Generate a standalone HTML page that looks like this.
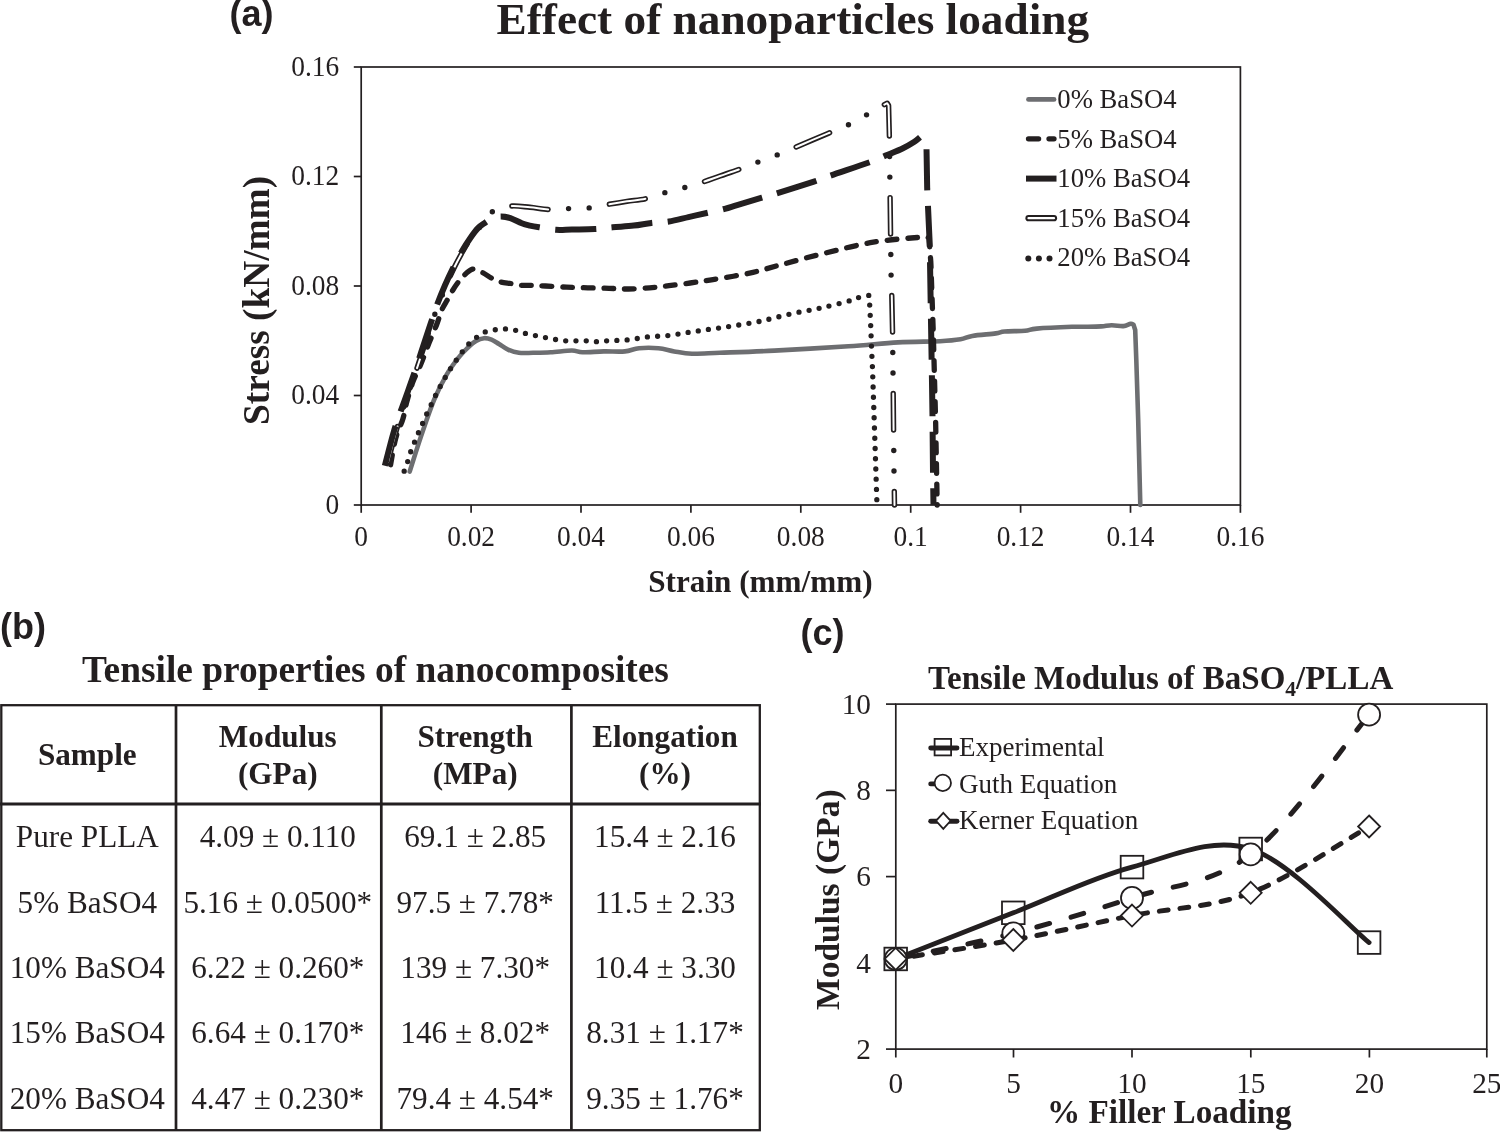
<!DOCTYPE html><html><head><meta charset="utf-8"><title>Effect of nanoparticles loading</title><style>
html,body{margin:0;padding:0;background:#fff;width:1500px;height:1132px;overflow:hidden}
svg{display:block;will-change:transform}
text{fill:#231f20}
.s{font-family:'Liberation Serif', serif}
.b{font-weight:bold}
.ss{font-family:'Liberation Sans', sans-serif;font-weight:bold}
</style></head><body>
<svg width="1500" height="1132" viewBox="0 0 1500 1132">
<rect width="1500" height="1132" fill="#fff"/>
<text class="ss" x="229.5" y="26" font-size="36">(a)</text>
<text class="s b" x="496.5" y="34" font-size="45.3">Effect of nanoparticles loading</text>
<g stroke="#231f20" stroke-width="1.7" fill="none">
<rect x="361.2" y="67.0" width="879.2" height="438.0"/>
<line x1="353.8" y1="505" x2="361.2" y2="505"/>
<line x1="353.8" y1="395.5" x2="361.2" y2="395.5"/>
<line x1="353.8" y1="286" x2="361.2" y2="286"/>
<line x1="353.8" y1="176.5" x2="361.2" y2="176.5"/>
<line x1="353.8" y1="67" x2="361.2" y2="67"/>
<line x1="361.2" y1="505.0" x2="361.2" y2="512.8"/>
<line x1="471.1" y1="505.0" x2="471.1" y2="512.8"/>
<line x1="581" y1="505.0" x2="581" y2="512.8"/>
<line x1="690.9" y1="505.0" x2="690.9" y2="512.8"/>
<line x1="800.8" y1="505.0" x2="800.8" y2="512.8"/>
<line x1="910.7" y1="505.0" x2="910.7" y2="512.8"/>
<line x1="1020.6" y1="505.0" x2="1020.6" y2="512.8"/>
<line x1="1130.5" y1="505.0" x2="1130.5" y2="512.8"/>
<line x1="1240.4" y1="505.0" x2="1240.4" y2="512.8"/>
</g>
<g class="s" font-size="27.4" text-anchor="end">
<text transform="translate(339.2 513.9) scale(1 1.06)">0</text>
<text transform="translate(339.2 404.4) scale(1 1.06)">0.04</text>
<text transform="translate(339.2 294.9) scale(1 1.06)">0.08</text>
<text transform="translate(339.2 185.4) scale(1 1.06)">0.12</text>
<text transform="translate(339.2 75.9) scale(1 1.06)">0.16</text>
</g>
<g class="s" font-size="27.4" text-anchor="middle">
<text transform="translate(361.2 545.6) scale(1 1.06)">0</text>
<text transform="translate(471.1 545.6) scale(1 1.06)">0.02</text>
<text transform="translate(581 545.6) scale(1 1.06)">0.04</text>
<text transform="translate(690.9 545.6) scale(1 1.06)">0.06</text>
<text transform="translate(800.8 545.6) scale(1 1.06)">0.08</text>
<text transform="translate(910.7 545.6) scale(1 1.06)">0.1</text>
<text transform="translate(1020.6 545.6) scale(1 1.06)">0.12</text>
<text transform="translate(1130.5 545.6) scale(1 1.06)">0.14</text>
<text transform="translate(1240.4 545.6) scale(1 1.06)">0.16</text>
</g>
<text class="s b" font-size="37.3" text-anchor="middle" transform="translate(268.8 300.4) rotate(-90)">Stress (kN/mm)</text>
<text class="s b" font-size="31.2" text-anchor="middle" x="760.4" y="592.3">Strain (mm/mm)</text>
<g fill="none" stroke-linejoin="round">
<path d="M409.7 471.6 C411.62 465.63 417.15 447.73 421.2 435.8 C425.25 423.87 429.73 410.25 434 400 C438.27 389.75 442.53 381.57 446.8 374.3 C451.07 367.03 456.07 360.87 459.6 356.4 C463.13 351.93 465.27 350.07 468 347.5 C470.73 344.93 473.33 342.55 476 341 C478.67 339.45 481.42 338.43 484 338.2 C486.58 337.97 489 338.63 491.5 339.6 C494 340.57 496.25 342.33 499 344 C501.75 345.67 504.68 348.13 508 349.6 C511.32 351.07 514.73 352.27 518.9 352.8 C523.07 353.33 527.7 352.88 533 352.8 C538.3 352.72 544.22 352.68 550.7 352.3 C557.18 351.92 566.6 350.5 571.9 350.5 C577.2 350.5 577.2 352.15 582.5 352.3 C587.8 352.45 596.63 351.55 603.7 351.4 C610.77 351.25 619.02 351.93 624.9 351.4 C630.78 350.87 633.42 348.73 639 348.2 C644.58 347.67 652.52 347.67 658.4 348.2 C664.28 348.73 668.7 350.48 674.3 351.4 C679.9 352.32 684.4 353.47 692 353.7 C699.6 353.93 706.18 353.32 719.9 352.8 C733.62 352.28 752.87 351.7 774.3 350.6 C795.73 349.5 827.88 347.57 848.5 346.2 C869.12 344.83 882.75 343.23 898 342.4 C913.25 341.57 929.58 341.72 940 341.2 C950.42 340.68 955.12 340.18 960.5 339.3 C965.88 338.42 966.43 336.88 972.3 335.9 C978.17 334.92 990.33 334.13 995.7 333.4 C1001.07 332.67 999.62 331.93 1004.5 331.5 C1009.38 331.07 1019.62 331.28 1025 330.8 C1030.38 330.32 1028.97 329.27 1036.8 328.6 C1044.63 327.93 1063.7 327.1 1072 326.8 C1080.3 326.5 1081.72 326.87 1086.6 326.8 C1091.48 326.73 1097.13 326.67 1101.3 326.4 C1105.47 326.13 1107.93 325.25 1111.6 325.2 C1115.27 325.15 1120.13 326.33 1123.3 326.1 C1126.47 325.87 1128.9 324.05 1130.6 323.8 C1132.3 323.55 1133.02 324.47 1133.5 324.6 L1135.2 330 L1136.3 360 L1138.2 420 L1140.3 505" stroke="#6d6e71" stroke-width="4.6" stroke-linecap="round"/>
<path d="M390 468 C390.95 463.05 393.57 446.43 395.7 438.3 C397.83 430.17 400.95 425.3 402.8 419.2 C404.65 413.1 405.07 408.05 406.8 401.7 C408.53 395.35 410.82 387.45 413.2 381.1 C415.58 374.75 418.47 369.95 421.1 363.6 C423.73 357.25 426.35 349.63 429 343 C431.65 336.37 434.92 329.22 437 323.8 C439.08 318.38 439.8 314.43 441.5 310.5 C443.2 306.57 445.28 303.63 447.2 300.2 C449.12 296.77 451.27 292.77 453 289.9 C454.73 287.03 455.88 285.3 457.6 283 C459.32 280.7 460.82 278.4 463.3 276.1 C465.78 273.8 469.43 269.87 472.5 269.2 C475.57 268.53 478.45 270.57 481.7 272.1 C484.95 273.63 488.95 276.78 492 278.4 C495.05 280.02 496.75 280.93 500 281.8 C503.25 282.67 508.05 283.02 511.5 283.6 C514.95 284.18 517.25 285.02 520.7 285.3 C524.15 285.58 528.08 285.18 532.2 285.3 C536.32 285.42 539.67 285.68 545.4 286 C551.13 286.32 559.53 286.9 566.6 287.2 C573.67 287.5 580.73 287.62 587.8 287.8 C594.87 287.98 602.23 288.1 609 288.3 C615.77 288.5 621.63 289.08 628.4 289 C635.17 288.92 642.83 288.35 649.6 287.8 C656.37 287.25 662.23 286.5 669 285.7 C675.77 284.9 683.13 283.98 690.2 283 C697.27 282.02 701.52 281.43 711.4 279.8 C721.28 278.17 737.78 275.75 749.5 273.2 C761.22 270.65 769.32 267.8 781.7 264.5 C794.08 261.2 808.53 257.12 823.8 253.4 C839.07 249.68 857.22 244.88 873.3 242.2 C889.38 239.52 911.02 238 920.3 237.3 C929.58 236.6 927.55 237.88 929 238 L930.8 262 L933.2 330 L935.6 420 L937.2 505" stroke="#231f20" stroke-width="5.3" stroke-linecap="round" stroke-dasharray="9.7 10.9" stroke-dashoffset="17.18"/>
<path d="M386 470 C387.5 464.17 391.92 446 395 435 C398.08 424 401.33 413.67 404.5 404 C407.67 394.33 411.08 385.5 414 377 C416.92 368.5 419.17 361.67 422 353 C424.83 344.33 428.33 332.83 431 325 C433.67 317.17 435.5 312.5 438 306 C440.5 299.5 443.33 292.33 446 286 C448.67 279.67 451.17 273.83 454 268 C456.83 262.17 460.17 256 463 251 C465.83 246 468.33 241.83 471 238 C473.67 234.17 476.5 230.83 479 228 C481.5 225.17 483.73 223.73 486 221 C488.27 218.27 488.53 214.08 492.6 211.6 C496.67 209.12 504.17 206.82 510.4 206.1 C516.63 205.38 523.5 206.73 530 207.3 C536.5 207.87 543.02 209.28 549.4 209.5 C555.78 209.72 561.67 208.87 568.3 208.6 C574.93 208.33 582.57 208.6 589.2 207.9 C595.83 207.2 601.8 205.5 608.1 204.4 C614.4 203.3 620.67 202.27 627 201.3 C633.33 200.33 639.83 200.03 646.1 198.6 C652.37 197.17 658.18 194.53 664.6 192.7 C671.02 190.87 678.12 189.42 684.6 187.6 C691.08 185.78 697.6 183.73 703.5 181.8 C709.4 179.87 713.98 178.1 720 176 C726.02 173.9 733.37 171.48 739.6 169.2 C745.83 166.92 751.13 164.68 757.4 162.3 C763.67 159.92 770.88 157.38 777.2 154.9 C783.52 152.42 789.5 149.85 795.3 147.4 C801.1 144.95 806.22 142.67 812 140.2 C817.78 137.73 823.92 135.18 830 132.6 C836.08 130.02 842.4 127.67 848.5 124.7 C854.6 121.73 860.62 118.15 866.6 114.8 C872.58 111.45 881.43 106.3 884.4 104.6 L887.2 103.2 L888.6 105.5 L889.4 137 L889.6 156.8 L890.1 197.7 L890.6 236 L891.1 276.1 L891.8 296.7 L892.6 333.8 L893 372 L893.6 432 L894 472 L894.5 505" stroke="#231f20" stroke-width="5.4" stroke-linecap="round" stroke-dasharray="36.4 20.5 0 20.6 0 20.5" stroke-dashoffset="89.57"/>
<path d="M386 470 C387.5 464.17 391.92 446 395 435 C398.08 424 401.33 413.67 404.5 404 C407.67 394.33 411.08 385.5 414 377 C416.92 368.5 419.17 361.67 422 353 C424.83 344.33 428.33 332.83 431 325 C433.67 317.17 435.5 312.5 438 306 C440.5 299.5 443.33 292.33 446 286 C448.67 279.67 451.17 273.83 454 268 C456.83 262.17 460.17 256 463 251 C465.83 246 468.33 241.83 471 238 C473.67 234.17 476.5 230.83 479 228 C481.5 225.17 483.73 223.73 486 221 C488.27 218.27 488.53 214.08 492.6 211.6 C496.67 209.12 504.17 206.82 510.4 206.1 C516.63 205.38 523.5 206.73 530 207.3 C536.5 207.87 543.02 209.28 549.4 209.5 C555.78 209.72 561.67 208.87 568.3 208.6 C574.93 208.33 582.57 208.6 589.2 207.9 C595.83 207.2 601.8 205.5 608.1 204.4 C614.4 203.3 620.67 202.27 627 201.3 C633.33 200.33 639.83 200.03 646.1 198.6 C652.37 197.17 658.18 194.53 664.6 192.7 C671.02 190.87 678.12 189.42 684.6 187.6 C691.08 185.78 697.6 183.73 703.5 181.8 C709.4 179.87 713.98 178.1 720 176 C726.02 173.9 733.37 171.48 739.6 169.2 C745.83 166.92 751.13 164.68 757.4 162.3 C763.67 159.92 770.88 157.38 777.2 154.9 C783.52 152.42 789.5 149.85 795.3 147.4 C801.1 144.95 806.22 142.67 812 140.2 C817.78 137.73 823.92 135.18 830 132.6 C836.08 130.02 842.4 127.67 848.5 124.7 C854.6 121.73 860.62 118.15 866.6 114.8 C872.58 111.45 881.43 106.3 884.4 104.6 L887.2 103.2 L888.6 105.5 L889.4 137 L889.6 156.8 L890.1 197.7 L890.6 236 L891.1 276.1 L891.8 296.7 L892.6 333.8 L893 372 L893.6 432 L894 472 L894.5 505" stroke="#fff" stroke-width="2" stroke-linecap="round" stroke-dasharray="36.4 61.6" stroke-dashoffset="89.57"/>
<path d="M384 469 C385.67 462.67 390.73 441.95 394 431 C397.27 420.05 400.4 412.42 403.6 403.3 C406.8 394.18 410.28 384.77 413.2 376.3 C416.12 367.83 418.2 361.25 421.1 352.5 C424 343.75 427.95 331.72 430.6 323.8 C433.25 315.88 434.6 311.42 437 305 C439.4 298.58 442.33 291.45 445 285.3 C447.67 279.15 450.15 273.83 453 268.1 C455.85 262.37 459.23 255.88 462.1 250.9 C464.97 245.92 467.52 242.03 470.2 238.2 C472.88 234.37 475.72 230.48 478.2 227.9 C480.68 225.32 482.8 224.27 485.1 222.7 C487.4 221.13 489.42 219.55 492 218.5 C494.58 217.45 497.53 216.47 500.6 216.4 C503.67 216.33 506.87 216.95 510.4 218.1 C513.93 219.25 518.55 222.05 521.8 223.3 C525.05 224.55 527.02 224.93 529.9 225.6 C532.78 226.27 534.75 226.6 539.1 227.3 C543.45 228 550.53 229.43 556 229.8 C561.47 230.17 565.43 229.62 571.9 229.5 C578.37 229.38 588.03 229.47 594.8 229.1 C601.57 228.73 606.02 227.88 612.5 227.3 C618.98 226.72 627.22 226.33 633.7 225.6 C640.18 224.87 645.52 223.58 651.4 222.9 C657.28 222.22 662.82 222.47 669 221.5 C675.18 220.53 682.02 218.57 688.5 217.1 C694.98 215.63 701.85 214.08 707.9 212.7 C713.95 211.32 719.93 210.07 724.8 208.8 C729.67 207.53 730.92 206.95 737.1 205.1 C743.28 203.25 754.88 199.77 761.9 197.7 C768.92 195.63 770.53 195.38 779.2 192.7 C787.87 190.02 805.23 184.48 813.9 181.6 C822.57 178.72 821.72 178.7 831.2 175.4 C840.68 172.1 861.73 165.1 870.8 161.8 C879.87 158.5 880.23 157.87 885.6 155.6 C890.97 153.33 898.27 150.47 903 148.2 C907.73 145.93 911.12 143.87 914 142 C916.88 140.13 919.25 137.83 920.3 137 L925.5 141 L926.5 148.2 L927.2 189 L929.7 243.5 L931.9 376 L932.5 415.9 L933 473 L933.5 505" stroke="#231f20" stroke-width="6" stroke-linecap="butt" stroke-dasharray="41 15.5" stroke-dashoffset="53.07"/>
<path d="M403.5 472.9 C404.1 471.32 405.98 466.68 407.1 463.4 C408.22 460.12 409.05 456.52 410.2 453.2 C411.35 449.88 412.72 446.7 414 443.5 C415.28 440.3 416.57 437.12 417.9 434 C419.23 430.88 420.63 427.92 422 424.8 C423.37 421.68 424.65 418.47 426.1 415.3 C427.55 412.13 429.22 408.92 430.7 405.8 C432.18 402.68 433.52 399.63 435 396.6 C436.48 393.57 438.02 390.58 439.6 387.6 C441.18 384.62 442.78 381.68 444.5 378.7 C446.22 375.72 448.02 372.68 449.9 369.7 C451.78 366.72 453.83 363.65 455.8 360.8 C457.77 357.95 459.62 355.33 461.7 352.6 C463.78 349.87 465.97 346.83 468.3 344.4 C470.63 341.97 473 340.03 475.7 338 C478.4 335.97 481.28 333.57 484.5 332.2 C487.72 330.83 491.57 330.35 495 329.8 C498.43 329.25 501.72 328.83 505.1 328.9 C508.48 328.97 511.92 329.45 515.3 330.2 C518.68 330.95 522.07 332.52 525.4 333.4 C528.73 334.28 531.97 334.8 535.3 335.5 C538.63 336.2 542.02 336.93 545.4 337.6 C548.78 338.27 552.22 338.97 555.6 339.5 C558.98 340.03 560.63 340.58 565.7 340.8 C570.77 341.02 580.9 340.65 586 340.8 C591.1 340.95 592.85 341.7 596.3 341.7 C599.75 341.7 601.53 341.1 606.7 340.8 C611.87 340.5 620.45 340.55 627.3 339.9 C634.15 339.25 640.97 337.63 647.8 336.9 C654.63 336.17 661.43 336.27 668.3 335.5 C675.17 334.73 682.17 333.33 689 332.3 C695.83 331.27 702.52 330.28 709.3 329.3 C716.08 328.32 721.35 327.72 729.7 326.4 C738.05 325.08 749.3 323.47 759.4 321.4 C769.5 319.33 779.98 316.27 790.3 314 C800.62 311.73 811.18 310.07 821.3 307.8 C831.42 305.53 844.4 302.25 851 300.4 C857.6 298.55 857.88 297.53 860.9 296.7 C863.92 295.87 867.73 295.62 869.1 295.4 L869.8 306.6 L870.8 327.6 L871.5 347.4 L872.5 368.5 L877 505" stroke="#231f20" stroke-width="5.3" stroke-linecap="round" stroke-dasharray="0 10.25" stroke-dashoffset="8.38"/>
</g>
<g fill="none">
<line x1="1028.5" y1="99.4" x2="1054" y2="99.4" stroke="#6d6e71" stroke-width="4.8" stroke-linecap="round"/>
<path d="M1028.5 138.8 H1038.6 M1049 138.8 H1054" stroke="#231f20" stroke-width="5.3" stroke-linecap="round"/>
<line x1="1026" y1="178.6" x2="1056.5" y2="178.6" stroke="#231f20" stroke-width="6"/>
<line x1="1028.5" y1="218.2" x2="1054" y2="218.2" stroke="#231f20" stroke-width="6.2" stroke-linecap="round"/>
<line x1="1028.5" y1="218.2" x2="1054" y2="218.2" stroke="#fff" stroke-width="2.2" stroke-linecap="round"/>
<circle cx="1028.3" cy="258.4" r="3" fill="#231f20"/>
<circle cx="1038.9" cy="258.4" r="3" fill="#231f20"/>
<circle cx="1049.5" cy="258.4" r="3" fill="#231f20"/>
</g>
<g class="s" font-size="26.7">
<text x="1057.3" y="108.3">0% BaSO4</text>
<text x="1057.3" y="148">5% BaSO4</text>
<text x="1057.3" y="186.9">10% BaSO4</text>
<text x="1057.3" y="226.6">15% BaSO4</text>
<text x="1057.3" y="266.4">20% BaSO4</text>
</g>
<text class="ss" x="0" y="639" font-size="36">(b)</text>
<text class="s b" x="375.5" y="681.7" font-size="37.4" text-anchor="middle">Tensile properties of nanocomposites</text>
<g stroke="#231f20" fill="none">
<rect x="1.3" y="705.2" width="758.5" height="425" stroke-width="2.3"/>
<line x1="0" y1="804" x2="761" y2="804" stroke-width="2.9"/>
<line x1="176" y1="705" x2="176" y2="1131" stroke-width="2.7"/>
<line x1="381.3" y1="705" x2="381.3" y2="1131" stroke-width="2.7"/>
<line x1="571.4" y1="705" x2="571.4" y2="1131" stroke-width="2.7"/>
</g>
<g class="s b" font-size="31.2" text-anchor="middle">
<text x="87.3" y="765.4">Sample</text>
<text x="277.8" y="746.5">Modulus</text><text x="277.8" y="783.5">(GPa)</text>
<text x="475.2" y="746.5">Strength</text><text x="475.2" y="783.5">(MPa)</text>
<text x="665.0" y="746.5">Elongation</text><text x="665.0" y="783.5">(%)</text>
</g>
<g class="s" font-size="31.2" text-anchor="middle">
<text x="87.3" y="847.4">Pure PLLA</text>
<text x="277.8" y="847.4">4.09 ± 0.110</text>
<text x="475.2" y="847.4">69.1 ± 2.85</text>
<text x="665.0" y="847.4">15.4 ± 2.16</text>
<text x="87.3" y="912.8">5% BaSO4</text>
<text x="277.8" y="912.8">5.16 ± 0.0500*</text>
<text x="475.2" y="912.8">97.5 ± 7.78*</text>
<text x="665.0" y="912.8">11.5 ± 2.33</text>
<text x="87.3" y="977.8">10% BaSO4</text>
<text x="277.8" y="977.8">6.22 ± 0.260*</text>
<text x="475.2" y="977.8">139 ± 7.30*</text>
<text x="665.0" y="977.8">10.4 ± 3.30</text>
<text x="87.3" y="1043.4">15% BaSO4</text>
<text x="277.8" y="1043.4">6.64 ± 0.170*</text>
<text x="475.2" y="1043.4">146 ± 8.02*</text>
<text x="665.0" y="1043.4">8.31 ± 1.17*</text>
<text x="87.3" y="1108.8">20% BaSO4</text>
<text x="277.8" y="1108.8">4.47 ± 0.230*</text>
<text x="475.2" y="1108.8">79.4 ± 4.54*</text>
<text x="665.0" y="1108.8">9.35 ± 1.76*</text>
</g>
<text class="ss" x="800.5" y="644.8" font-size="36">(c)</text>
<text class="s b" x="928" y="688.9" font-size="33">Tensile Modulus of BaSO<tspan font-size="21.5" dy="6.6">4</tspan><tspan dy="-6.6">/PLLA</tspan></text>
<g stroke="#231f20" stroke-width="1.7" fill="none">
<rect x="895.8" y="704.1" width="591.0" height="344.9999999999999"/>
<line x1="886" y1="1049.1" x2="895.8" y2="1049.1"/>
<line x1="886" y1="962.85" x2="895.8" y2="962.85"/>
<line x1="886" y1="876.6" x2="895.8" y2="876.6"/>
<line x1="886" y1="790.35" x2="895.8" y2="790.35"/>
<line x1="886" y1="704.1" x2="895.8" y2="704.1"/>
<line x1="895.8" y1="1049.1" x2="895.8" y2="1057.5"/>
<line x1="1013.5" y1="1049.1" x2="1013.5" y2="1057.5"/>
<line x1="1132" y1="1049.1" x2="1132" y2="1057.5"/>
<line x1="1250.8" y1="1049.1" x2="1250.8" y2="1057.5"/>
<line x1="1369.4" y1="1049.1" x2="1369.4" y2="1057.5"/>
<line x1="1486.8" y1="1049.1" x2="1486.8" y2="1057.5"/>
</g>
<g class="s" font-size="29.3" text-anchor="end">
<text x="871" y="1058.8">2</text>
<text x="871" y="972.55">4</text>
<text x="871" y="886.3">6</text>
<text x="871" y="800.05">8</text>
<text x="871" y="713.8">10</text>
</g>
<g class="s" font-size="29.3" text-anchor="middle">
<text x="895.8" y="1092.6">0</text>
<text x="1013.5" y="1092.6">5</text>
<text x="1132" y="1092.6">10</text>
<text x="1250.8" y="1092.6">15</text>
<text x="1369.4" y="1092.6">20</text>
<text x="1486.8" y="1092.6">25</text>
</g>
<text class="s b" font-size="33.5" text-anchor="middle" transform="translate(838.6 899.7) rotate(-90)">Modulus (GPa)</text>
<text class="s b" font-size="33.2" text-anchor="middle" x="1169.3" y="1122.6">% Filler Loading</text>
<g fill="none" stroke="#231f20" stroke-width="1.8">
<rect x="884.4" y="947.67" width="22.6" height="22.6"/>
<rect x="1002" y="901.52" width="22.6" height="22.6"/>
<rect x="1120.7" y="855.81" width="22.6" height="22.6"/>
<rect x="1239.4" y="837.7" width="22.6" height="22.6"/>
<rect x="1357.8" y="931.28" width="22.6" height="22.6"/>
</g>
<path d="M895.7 958.97 C915.3 951.28 973.92 928.13 1013.3 912.82 C1052.68 897.52 1092.43 877.75 1132 867.11 C1171.57 856.47 1211.18 836.42 1250.7 849 C1290.22 861.58 1349.37 926.98 1369.1 942.58" fill="none" stroke="#231f20" stroke-width="4.8" stroke-linecap="round" stroke-linejoin="round"/>
<path d="M895.7 958.97 C915.3 954.69 973.92 943.49 1013.3 933.31 C1052.68 923.13 1092.43 911.06 1132 897.9 C1171.57 884.75 1211.18 884.92 1250.7 854.39 C1290.22 823.86 1349.37 737.99 1369.1 714.71" fill="none" stroke="#231f20" stroke-width="5" stroke-linecap="round" stroke-dasharray="13.2 22.3" stroke-dashoffset="32.62"/>
<g fill="#fff" stroke="#231f20" stroke-width="1.8">
<circle cx="895.7" cy="958.97" r="11"/>
<circle cx="1013.3" cy="933.31" r="11"/>
<circle cx="1132" cy="897.9" r="11"/>
<circle cx="1250.7" cy="854.39" r="11"/>
<circle cx="1369.1" cy="714.71" r="11"/>
</g>
<path d="M895.7 958.97 C915.3 955.81 973.92 947.22 1013.3 939.99 C1052.68 932.76 1092.43 923.45 1132 915.58 C1171.57 907.72 1211.18 907.66 1250.7 892.81 C1290.22 877.97 1349.37 837.54 1369.1 826.49" fill="none" stroke="#231f20" stroke-width="5" stroke-linecap="round" stroke-dasharray="8.8 12" stroke-dashoffset="2.37"/>
<g fill="#fff" stroke="#231f20" stroke-width="1.8">
<path d="M895.7 947.97 L906.7 958.97 L895.7 969.97 L884.7 958.97 Z"/>
<path d="M1013.3 928.99 L1024.3 939.99 L1013.3 950.99 L1002.3 939.99 Z"/>
<path d="M1132 904.58 L1143 915.58 L1132 926.58 L1121 915.58 Z"/>
<path d="M1250.7 881.81 L1261.7 892.81 L1250.7 903.81 L1239.7 892.81 Z"/>
<path d="M1369.1 815.49 L1380.1 826.49 L1369.1 837.49 L1358.1 826.49 Z"/>
</g>
<g stroke="#231f20" fill="#fff">
<rect x="934.6" y="738.9" width="16.5" height="16.5" stroke-width="1.8"/>
<line x1="930.7" y1="748" x2="957" y2="748" stroke-width="4.9" stroke-linecap="round"/>
<line x1="930.7" y1="783.9" x2="934" y2="783.9" stroke-width="4.9" stroke-linecap="round"/>
<circle cx="942.8" cy="782.9" r="8.2" stroke-width="1.8"/>
<line x1="930.7" y1="821.3" x2="957" y2="821.3" stroke-width="4.9" stroke-linecap="round"/>
<path d="M943.3 812.8 L950.6 820.8 L943.3 828.8 L936 820.8 Z" stroke-width="1.8"/>
</g>
<g class="s" font-size="27">
<text x="959" y="755.7">Experimental</text>
<text x="959" y="792.8">Guth Equation</text>
<text x="959" y="829.3">Kerner Equation</text>
</g>
</svg></body></html>
